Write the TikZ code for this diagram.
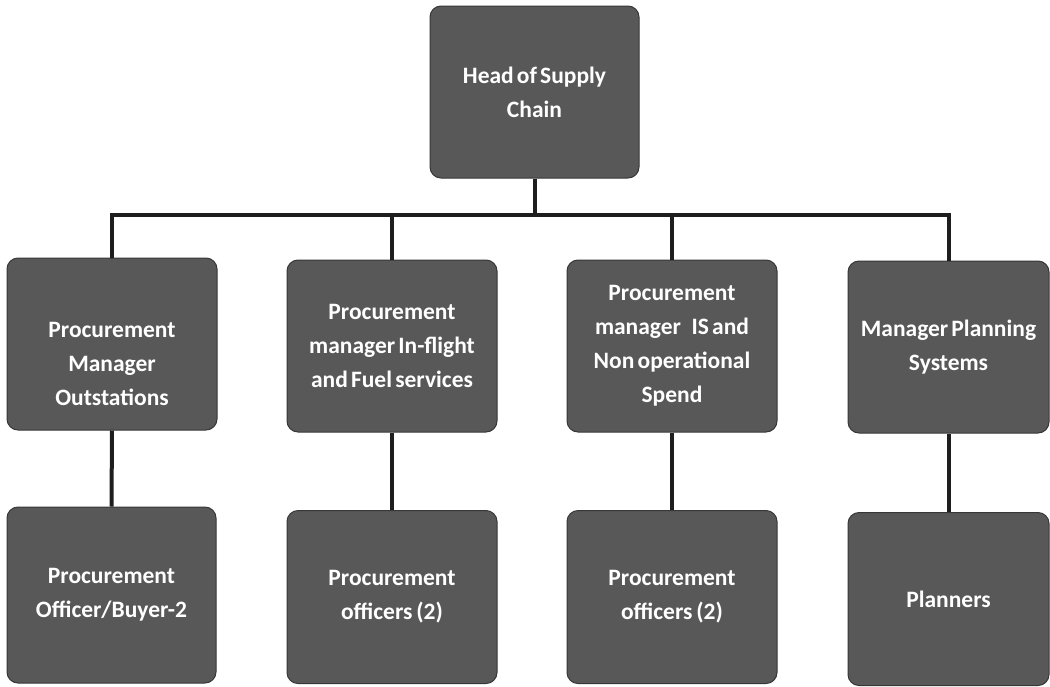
\documentclass[tikz,border=0pt]{standalone}
\usepackage{fontspec}
\setmainfont{Carlito}[WordSpace=0.6]
\definecolor{boxfill}{RGB}{88,88,88}
\definecolor{boxedge}{RGB}{55,55,55}
\definecolor{linecol}{RGB}{30,30,30}
\tikzset{
  boxtext/.style={align=flush center, inner sep=0pt, text=white, text width=196pt,
    font=\fontsize{23.5}{34}\selectfont\bfseries},
  orgbox/.style={boxtext, draw=boxedge, line width=1pt, fill=boxfill, rounded corners=11pt},
  conn/.style={draw=linecol, line width=4pt}
}
\begin{document}
\begin{tikzpicture}[x=1pt,y=-1pt]
\useasboundingbox (0,0) rectangle (1050,686);
\node[orgbox, minimum width=209pt, minimum height=172pt] (top) at (534.5,92) {Head of Supply\\Chain};
\node[orgbox, minimum width=210pt, minimum height=172pt,
  label={[boxtext, yshift=-20pt, name=b1text]center:{Procurement\\Manager\\Outstations}}] (b1) at (112,344) {};
\node[orgbox, minimum width=210pt, minimum height=172pt] (b2) at (392,346) {Procurement\\manager In-flight\\and Fuel services};
\node[orgbox, minimum width=210pt, minimum height=172pt] (b3) at (672,346) {Procurement\\manager\hspace{0.45em}IS and\\Non operational\\Spend};
\node[orgbox, minimum width=201pt, minimum height=172pt] (b4) at (948.5,347) {Manager Planning\\Systems};
\node[orgbox, minimum width=209pt, minimum height=176pt] (c1) at (111.5,595) {Procurement\\Officer/Buyer-2};
\node[orgbox, minimum width=210pt, minimum height=173pt] (c2) at (392,597) {Procurement\\officers\,(2)};
\node[orgbox, minimum width=210pt, minimum height=173pt] (c3) at (672,597) {Procurement\\officers\,(2)};
\node[orgbox, minimum width=201pt, minimum height=173pt] (c4) at (948.5,599) {Planners};
\coordinate (bar) at (534.5,215);
\draw[conn] (top.south) -- (bar);
\draw[conn] (bar) -| (b1.north);
\draw[conn] (bar) -| (b2.north);
\draw[conn] (bar) -| (b3.north);
\draw[conn] (bar) -| (b4.north);
\draw[conn] (b1.south) -- (c1.north);
\draw[conn] (b2.south) -- (c2.north);
\draw[conn] (b3.south) -- (c3.north);
\draw[conn] (b4.south) -- (c4.north);
\end{tikzpicture}
\end{document}
